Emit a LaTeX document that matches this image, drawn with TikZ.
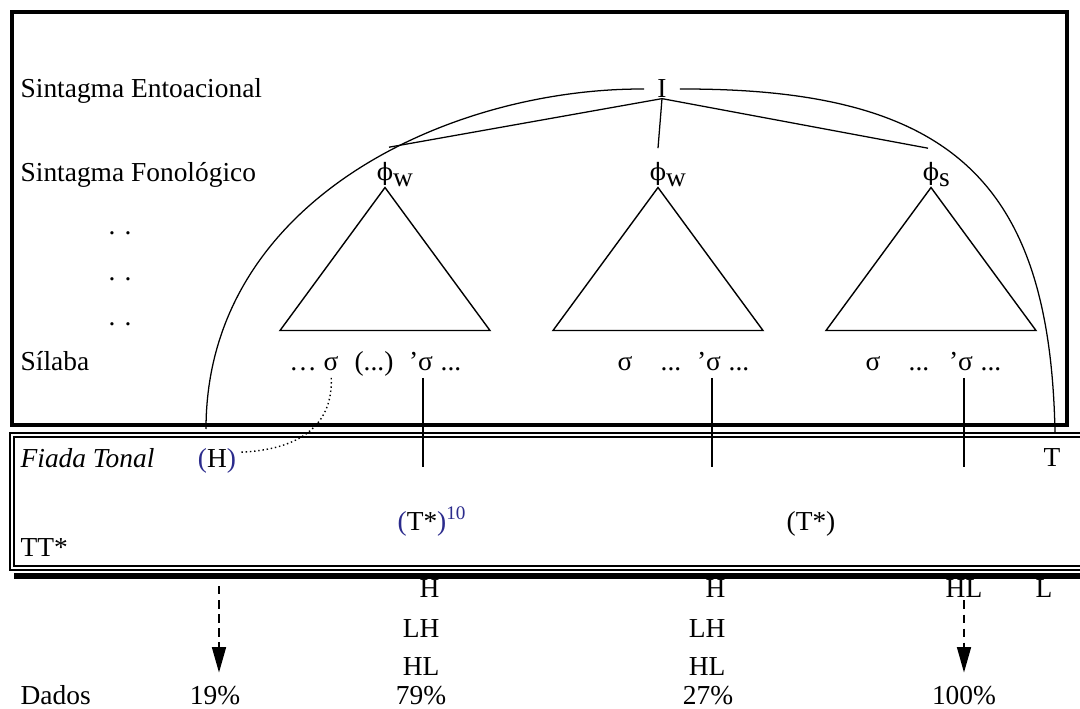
\documentclass[tikz,border=0pt]{standalone}
\usepackage{fontspec}
\setmainfont{Liberation Serif}
\newfontfamily\phifont{DejaVu Serif}
\usepackage{tikz}
\usetikzlibrary{calc}
\usetikzlibrary{arrows.meta}
\definecolor{parblue}{rgb}{0.17,0.17,0.55}

\begin{document}
\begin{tikzpicture}[x=0.025cm, y=-0.025cm, line width=0.9pt,
    txt/.style={anchor=base, inner sep=0pt, font=\fontsize{19.5}{23}\selectfont},
    lbl/.style={txt, anchor=base west},
    tri/.style={line width=1pt, line join=miter},
    tonearrow/.style={dashed, dash pattern=on 6pt off 4pt, -{Triangle[length=18pt, width=10pt]}}]
    \useasboundingbox (0,0) rectangle (1080,709);

    \draw [line width=2.8pt] (12,12) rectangle (1067,425);
    \draw [line width=0.9pt, double, double distance=1.9pt] (12,435) rectangle (1120,568);
    \draw [line width=4.3pt] (14,576) -- (1120,576);

    \node [lbl] (sEnt) at (20,98) {Sintagma Entoacional};
    \node [lbl] (sFon) at (20,182) {Sintagma Fonológico};
    \node [lbl] (dotsA) at (108,235) {. .};
    \node [lbl] (dotsB) at (108,280) {. .};
    \node [lbl] (dotsC) at (108,325) {. .};
    \node [lbl] (sSil) at (20,370) {Sílaba};

    \node [txt, inner xsep=9pt] (I) at (662,98) {I};
    \node [txt] (phiA) at (385,181) {{\phifont\fontsize{17}{20}\selectfont ϕ}\rlap{\raisebox{-4pt}{w}}};
    \node [txt] (phiB) at (658,181) {{\phifont\fontsize{17}{20}\selectfont ϕ}\rlap{\raisebox{-4pt}{w}}};
    \node [txt] (phiC) at (931,181) {{\phifont\fontsize{17}{20}\selectfont ϕ}\rlap{\raisebox{-4pt}{s}}};

    \draw (I.south) -- ($(phiA.north)+(4,-15)$);
    \draw (I.south) -- ($(phiB.north)+(0,-14)$);
    \draw (I.south) -- ($(phiC.north)+(-3,-14)$);

    \draw [tri] (phiA.south) -- ++(-105,143) -- ++(210,0) -- cycle;
    \draw [tri] (phiB.south) -- ++(-105,143) -- ++(210,0) -- cycle;
    \draw [tri] (phiC.south) -- ++(-105,143) -- ++(210,0) -- cycle;

    \node [txt] (ellA) at (303,370) {…};
    \node [txt] (sylA) at (331,370) {σ};
    \node [txt] (parA) at (374,370) {(...)};
    \node [txt] (strA) at (421,370) {’σ};
    \node [txt] (trlA) at (451,370) {...};
    \node [txt] (sylB) at (625,370) {σ};
    \node [txt] (ellB) at (671,370) {...};
    \node [txt] (strB) at (709,370) {’σ};
    \node [txt] (trlB) at (739,370) {...};
    \node [txt] (sylC) at (873,370) {σ};
    \node [txt] (ellC) at (919,370) {...};
    \node [txt] (strC) at (961,370) {’σ};
    \node [txt] (trlC) at (991,370) {...};

    \node [lbl] (fiada) at (20,467) {\itshape Fiada Tonal};
    \node [txt, inner sep=2pt] (bH) at (217,467) {\textcolor{parblue}{(}H\textcolor{parblue}{)}};
    \node [txt] (bT) at (1052,466) {T};
    \node [txt] (tsA) at (422,530) {\textcolor{parblue}{(}T*\textcolor{parblue}{)}\rlap{\textsuperscript{\textcolor{parblue}{10}}}};
    \node [txt] (tsB) at (811,530) {(T*)};
    \node [lbl] (tts) at (20,556) {TT*};

    \coordinate (hookL) at (206,429);
    \coordinate (hookR) at (1055,432);
    \draw (hookL) .. controls (206,200) and (450,88) .. (I.west);
    \draw (I.east) .. controls (950,88) and (1050,180) .. (hookR);

    \coordinate (tA) at (423,467);
    \coordinate (tB) at (712,467);
    \coordinate (tC) at (964,467);
    \draw [shorten <=5pt] (tA |- strA.south) -- (tA);
    \draw [shorten <=5pt] (tB |- strB.south) -- (tB);
    \draw [shorten <=5pt] (tC |- strC.south) -- (tC);

    \draw [dotted, line width=1pt, shorten <=5pt] (sylA.south) .. controls (333,425) and (300,450) .. (bH.20);

    \node [txt, anchor=base east] (hA1) at (440,597) {H};
    \node [txt, anchor=base east] (hA2) at (440,637) {LH};
    \node [txt, anchor=base east] (hA3) at (440,675) {HL};
    \node [txt, anchor=base east] (hB1) at (726,597) {H};
    \node [txt, anchor=base east] (hB2) at (726,637) {LH};
    \node [txt, anchor=base east] (hB3) at (726,675) {HL};
    \node [txt] (hC) at (964,597) {HL};
    \node [txt] (lC) at (1044,597) {L};

    \node [lbl] (dados) at (20,704) {Dados};
    \node [txt] (pA) at (215,704) {19\%};
    \node [txt] (pB) at (421,704) {79\%};
    \node [txt] (pC) at (708,704) {27\%};
    \node [txt] (pD) at (964,704) {100\%};

    \coordinate (aTop) at (219,586);
    \draw [tonearrow, shorten >=9pt] (aTop) -- (aTop |- pA.north);
    \draw [tonearrow, shorten <=2pt, shorten >=9pt] (hC.south) -- (hC.south |- pD.north);
\end{tikzpicture}
\end{document}
